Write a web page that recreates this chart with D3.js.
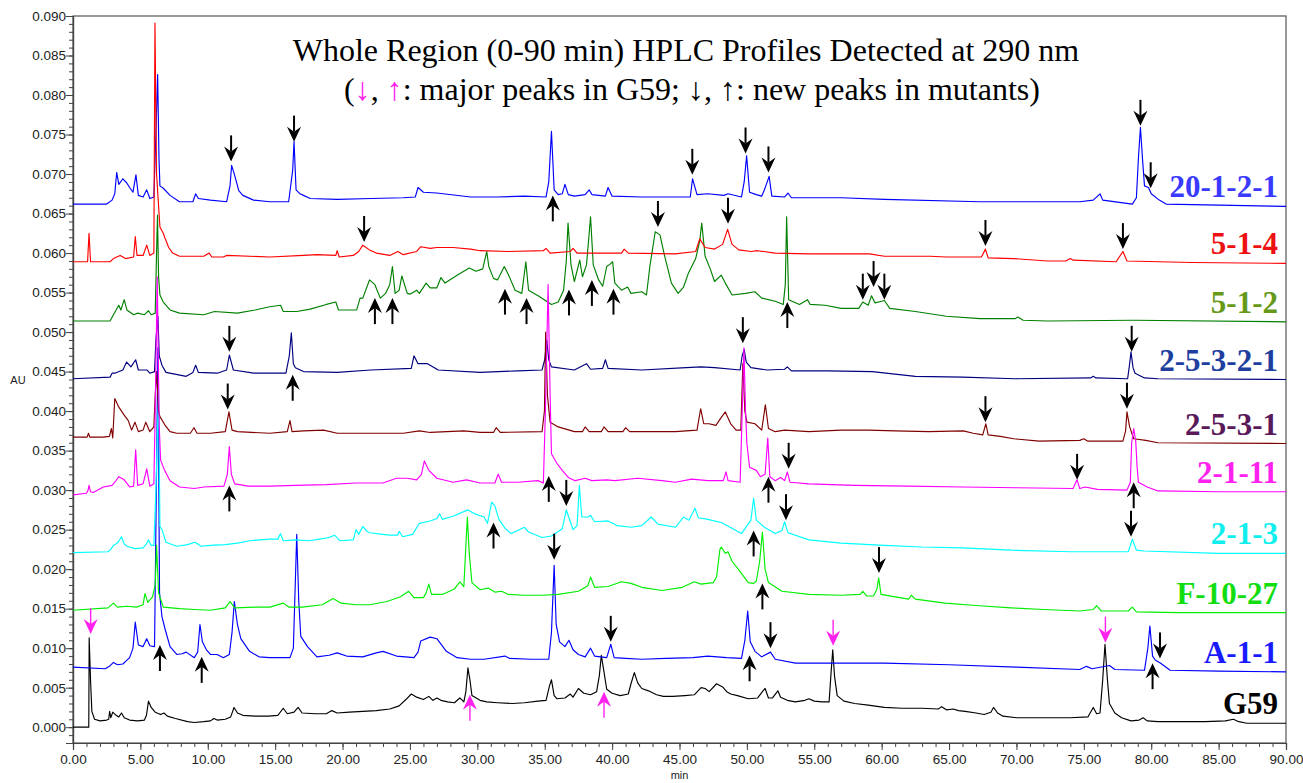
<!DOCTYPE html>
<html><head><meta charset="utf-8">
<script src="https://cdn.jsdelivr.net/npm/d3@7/dist/d3.min.js"></script>
<style>body{margin:0;background:#fff;}svg{display:block;}</style>
</head><body>
<svg id="chart" width="1303" height="783"></svg>
<script>
// ---------- DATA (time in min, absorbance in AU) ----------
const xMajorTicks = [0,5,10,15,20,25,30,35,40,45,50,55,60,65,70,75,80,85,90];
const yMajorTicks = [0,0.005,0.010,0.015,0.020,0.025,0.030,0.035,0.040,0.045,0.050,0.055,0.060,0.065,0.070,0.075,0.080,0.085,0.090];

const seriesNames = ["G59","A-1-1","F-10-27","2-1-3","2-5-3-2-1","2-5-3-1","5-1-2","20-1-2-1","2-1-11","5-1-4"];
const lineColors  = ["#000000","#0000ff","#00ee00","#00ffff","#000080","#800000","#008000","#0000ff","#ff00ff","#ff0000"];
const labelColors = ["#000000","#1a1aff","#11dd11","#11eeee","#1f3f9f","#5a1a5a","#669918","#3a3aff","#ff22ee","#ee1111"];

const g59 = [[0,0],[1.17,0],[1.2,0.0113],[1.3,0.0060],[1.4,0.0020],[1.6,0.0010],[2.0,0.0008],[2.5,0.0009],[2.65,0.0010],[2.72,0.0020],[2.8,0.0012],[2.95,0.0019],[3.2,0.0015],[3.4,0.0013],[3.6,0.0018],[3.8,0.0012],[4.2,0.0009],[4.8,0.0008],[5.3,0.0009],[5.45,0.0015],[5.6,0.0033],[5.8,0.0025],[6.1,0.0019],[6.5,0.0016],[6.75,0.0018],[7.0,0.0014],[7.6,0.0011],[8.5,0.0007],[9.0,0.0006],[9.7,0.0007],[10.2,0.0008],[10.45,0.0011],[10.7,0.0009],[11.3,0.0010],[11.7,0.0013],[11.95,0.0025],[12.2,0.0018],[12.6,0.0015],[13.5,0.0014],[14.5,0.0014],[15.2,0.0015],[15.6,0.0024],[15.9,0.0017],[16.4,0.0019],[16.7,0.0025],[17.0,0.0018],[18.0,0.0017],[18.8,0.0017],[19.2,0.0021],[19.6,0.0018],[20.5,0.0019],[21.5,0.0020],[22.5,0.0021],[23.5,0.0023],[24.2,0.0027],[24.7,0.0035],[25.1,0.0042],[25.5,0.0038],[26.0,0.0035],[26.4,0.0039],[26.7,0.0034],[27.0,0.0037],[27.3,0.0034],[27.8,0.0032],[28.3,0.0031],[28.7,0.0037],[29.0,0.0032],[29.15,0.0045],[29.3,0.0075],[29.45,0.0060],[29.6,0.0040],[30.2,0.0034],[30.7,0.0032],[31.5,0.0031],[32.6,0.0030],[33.5,0.0031],[34.5,0.0033],[35.1,0.0034],[35.35,0.0052],[35.5,0.0060],[35.7,0.0040],[35.9,0.0036],[36.5,0.0037],[36.9,0.0042],[37.1,0.0038],[37.5,0.0049],[37.9,0.0043],[38.4,0.0041],[38.85,0.0045],[39.05,0.0065],[39.2,0.0091],[39.35,0.0075],[39.6,0.0048],[40.0,0.0043],[40.6,0.0040],[41.2,0.0042],[41.4,0.0055],[41.65,0.0069],[41.9,0.0056],[42.2,0.0049],[42.7,0.0046],[43.3,0.0041],[43.8,0.0039],[44.5,0.0039],[45.4,0.0040],[46.1,0.0041],[46.6,0.0050],[46.9,0.0049],[47.2,0.0045],[47.75,0.0055],[48.2,0.0051],[48.5,0.0045],[48.8,0.0042],[49.3,0.0040],[50.1,0.0036],[50.8,0.0037],[51.15,0.0045],[51.35,0.0049],[51.6,0.0037],[51.9,0.0037],[52.3,0.0046],[52.5,0.0038],[53.0,0.0034],[53.6,0.0032],[54.3,0.0034],[54.6,0.0036],[55.0,0.0033],[55.6,0.0032],[56.1,0.0032],[56.25,0.0070],[56.37,0.0098],[56.5,0.0065],[56.7,0.0040],[57.2,0.0033],[58.0,0.0030],[59.0,0.0028],[60.2,0.0025],[61.5,0.0024],[63.0,0.0024],[64.2,0.0023],[64.45,0.0026],[64.8,0.0022],[65.3,0.0023],[65.7,0.0021],[66.2,0.0020],[67.0,0.0018],[67.6,0.0016],[68.1,0.0019],[68.3,0.0025],[68.6,0.0018],[69.0,0.0014],[70.0,0.0012],[72.0,0.0012],[74.0,0.0012],[75.3,0.0013],[75.7,0.0025],[75.95,0.0017],[76.2,0.0018],[76.4,0.0060],[76.57,0.0105],[76.75,0.0060],[76.9,0.0030],[77.3,0.0018],[77.8,0.0012],[78.5,0.0008],[79.1,0.0009],[79.4,0.0012],[79.7,0.0008],[80.5,0.0007],[82,0.0007],[84,0.0007],[85.5,0.0008],[86.1,0.0010],[86.5,0.0007],[87.1,0.0005],[90,0.0005]];

const a11 = [[0,0.0076],[2.4,0.0074],[2.7,0.0077],[3.0,0.0082],[3.3,0.0079],[3.7,0.0080],[4.2,0.0088],[4.45,0.0100],[4.62,0.0133],[4.85,0.0104],[5.2,0.0102],[5.47,0.0112],[5.7,0.0103],[6.05,0.0102],[6.15,0.0250],[6.3,0.0480],[6.42,0.0170],[6.6,0.0140],[6.85,0.0123],[7.2,0.0102],[7.7,0.0092],[8.1,0.0093],[8.4,0.0095],[9.0,0.0088],[9.25,0.0095],[9.42,0.0130],[9.6,0.0108],[9.9,0.0098],[10.2,0.0092],[10.7,0.0092],[11.15,0.0088],[11.6,0.0092],[11.8,0.0120],[11.97,0.0159],[12.2,0.0130],[12.45,0.0112],[13.1,0.0096],[13.8,0.0089],[14.6,0.0088],[15.5,0.0088],[16.1,0.0088],[16.35,0.0100],[16.6,0.0244],[16.75,0.0160],[16.9,0.0115],[17.4,0.0102],[18.1,0.0089],[19.0,0.0091],[19.6,0.0094],[20.3,0.0090],[21.5,0.0089],[22.5,0.0094],[23.0,0.0096],[24.0,0.0090],[25.3,0.0088],[25.6,0.0095],[25.8,0.0109],[26.5,0.0114],[27.0,0.0112],[27.7,0.0096],[28.5,0.0088],[29.5,0.0086],[30.5,0.0086],[32.05,0.0090],[32.4,0.0087],[34.0,0.0086],[35.3,0.0086],[35.5,0.0120],[35.7,0.0205],[35.85,0.0130],[36.1,0.0108],[36.5,0.0102],[36.8,0.0110],[37.1,0.0098],[37.5,0.0092],[38.0,0.0089],[38.4,0.0100],[38.7,0.0090],[39.6,0.0088],[39.9,0.0105],[40.15,0.0088],[41,0.0087],[42.2,0.0086],[44,0.0087],[46.0,0.0088],[47.1,0.0090],[48.5,0.0088],[49.6,0.0087],[49.85,0.0110],[50.06,0.0147],[50.25,0.0108],[50.6,0.0096],[51.1,0.0089],[51.75,0.0095],[52.1,0.0086],[53.6,0.0081],[56,0.0081],[60.2,0.0081],[65,0.0079],[70,0.0076],[74.7,0.0073],[75.2,0.0077],[75.6,0.0074],[76.9,0.0078],[77.3,0.0073],[79.5,0.0072],[79.75,0.0100],[79.9,0.0128],[80.1,0.0090],[80.3,0.0085],[80.7,0.0081],[81.4,0.0072],[85,0.0071],[90,0.0070]];

const f1027 = [[0,0.0148],[2.6,0.0151],[3.0,0.0157],[3.3,0.0152],[4.0,0.0153],[4.7,0.0152],[5.2,0.0155],[5.34,0.0169],[5.55,0.0158],[5.9,0.0165],[6.1,0.0180],[6.2,0.0230],[6.35,0.0170],[6.7,0.0152],[7.9,0.0150],[9.0,0.0149],[10.2,0.0148],[11.3,0.0151],[11.65,0.0159],[12.0,0.0151],[13.5,0.0152],[14.6,0.0152],[15.6,0.0157],[16.0,0.0152],[17.0,0.0152],[18.5,0.0155],[19.3,0.0163],[19.9,0.0157],[21.0,0.0155],[22.0,0.0155],[23.3,0.0159],[24.3,0.0165],[24.9,0.0172],[25.3,0.0164],[26.0,0.0164],[26.2,0.0170],[26.4,0.0181],[26.6,0.0168],[27.4,0.0168],[28.3,0.0175],[28.7,0.0184],[29.0,0.0178],[29.15,0.0230],[29.26,0.0266],[29.4,0.0220],[29.6,0.0183],[30.2,0.0174],[30.8,0.0176],[31.3,0.0171],[31.8,0.0172],[32.3,0.0168],[33.5,0.0167],[34.8,0.0167],[36.0,0.0168],[37.5,0.0172],[38.2,0.0179],[38.4,0.0190],[38.7,0.0177],[39.7,0.0178],[40.7,0.0184],[41.4,0.0182],[42.2,0.0177],[43.7,0.0173],[45.2,0.0177],[46.1,0.0184],[46.6,0.0181],[47.5,0.0183],[47.75,0.0190],[48.0,0.0225],[48.1,0.0228],[48.4,0.0220],[48.6,0.0222],[48.9,0.0210],[49.4,0.0199],[50.1,0.0183],[50.5,0.0182],[50.7,0.0185],[50.95,0.0210],[51.15,0.0247],[51.35,0.0200],[51.6,0.0183],[52.6,0.0172],[54.6,0.0168],[57.0,0.0167],[58.4,0.0168],[58.6,0.0172],[58.9,0.0166],[59.4,0.0166],[59.65,0.0175],[59.78,0.0189],[59.95,0.0168],[61,0.0165],[62.0,0.0162],[62.2,0.0167],[62.5,0.0162],[64.7,0.0157],[67,0.0154],[69.6,0.0151],[72,0.0149],[74.7,0.0147],[75.7,0.0149],[75.95,0.0154],[76.3,0.0147],[78.3,0.0147],[78.6,0.0152],[78.9,0.0146],[82,0.0145],[86,0.0145],[90,0.0145]];

const s213 = [[0,0.0221],[2.6,0.0222],[2.8,0.0225],[3.0,0.0230],[3.3,0.0233],[3.6,0.0241],[3.8,0.0232],[4.0,0.0229],[4.6,0.0226],[5.2,0.0227],[5.45,0.0232],[5.6,0.0237],[5.8,0.0230],[6.0,0.0230],[6.15,0.0300],[6.35,0.0427],[6.45,0.0254],[6.6,0.0250],[6.9,0.0234],[7.7,0.0229],[8.5,0.0231],[9.05,0.0234],[9.5,0.0229],[10.2,0.0230],[11.3,0.0231],[12.2,0.0233],[13.1,0.0236],[14.6,0.0238],[15.2,0.0238],[15.4,0.0245],[15.6,0.0236],[16.5,0.0237],[17.5,0.0236],[18.3,0.0238],[19.0,0.0240],[19.4,0.0243],[19.8,0.0236],[20.8,0.0237],[21.0,0.0250],[21.2,0.0244],[21.5,0.0254],[21.8,0.0248],[22.0,0.0246],[23.0,0.0244],[23.5,0.0243],[24.1,0.0243],[24.2,0.0248],[24.45,0.0241],[25.2,0.0244],[25.7,0.0258],[26.5,0.0261],[27.0,0.0264],[27.2,0.0270],[27.4,0.0263],[28.2,0.0267],[29.3,0.0275],[29.8,0.0270],[30.5,0.0266],[30.75,0.0258],[31.07,0.0285],[31.3,0.0280],[31.6,0.0263],[32.05,0.0252],[32.5,0.0245],[33.0,0.0249],[33.5,0.0253],[33.8,0.0247],[34.8,0.0240],[35.5,0.0242],[36.3,0.0251],[36.6,0.0275],[36.9,0.0260],[37.1,0.0250],[37.4,0.0255],[37.57,0.0306],[37.75,0.0266],[38.2,0.0266],[38.4,0.0268],[38.7,0.0260],[39.7,0.0261],[40.4,0.0255],[41.4,0.0253],[42.2,0.0255],[42.9,0.0266],[43.4,0.0257],[44.7,0.0253],[45.3,0.0266],[45.7,0.0262],[46.15,0.0277],[46.4,0.0265],[47.1,0.0263],[48.1,0.0259],[49.6,0.0245],[50.3,0.0262],[50.5,0.0290],[50.7,0.0262],[51.3,0.0253],[52.1,0.0245],[52.6,0.0249],[52.8,0.0260],[53.05,0.0246],[54.6,0.0237],[57,0.0233],[60.2,0.0230],[63,0.0228],[66,0.0227],[69.6,0.0224],[74,0.0222],[78.3,0.0222],[78.6,0.0238],[78.9,0.0224],[79.5,0.0223],[85,0.0220],[90,0.0220]];

const s25321 = [[0,0.0441],[2.75,0.0443],[2.9,0.0448],[3.1,0.0448],[3.7,0.0452],[3.98,0.0462],[4.3,0.0456],[4.65,0.0465],[4.85,0.0452],[5.5,0.0452],[5.7,0.0448],[6.05,0.0450],[6.15,0.0490],[6.3,0.0520],[6.4,0.0470],[6.6,0.0458],[6.9,0.0449],[8.4,0.0444],[8.9,0.0449],[9.1,0.0458],[9.3,0.0449],[10.7,0.0448],[11.4,0.0452],[11.6,0.0471],[11.9,0.0452],[13.4,0.0448],[15.8,0.0448],[16.05,0.0470],[16.2,0.0499],[16.35,0.0460],[16.5,0.0455],[17.1,0.0450],[19.6,0.0449],[22.1,0.0452],[25.1,0.0454],[25.3,0.0470],[25.6,0.0460],[26.3,0.0460],[27.1,0.0452],[30.2,0.0449],[33,0.0451],[34.8,0.0452],[35.0,0.0465],[35.15,0.0490],[35.3,0.0465],[35.5,0.0456],[37.2,0.0452],[38.1,0.0460],[38.4,0.0453],[39.3,0.0454],[39.5,0.0465],[39.7,0.0454],[42.2,0.0452],[45.5,0.0455],[46.6,0.0456],[47.6,0.0455],[49.5,0.0452],[49.65,0.0470],[49.8,0.0478],[49.95,0.0462],[50.3,0.0455],[51.5,0.0452],[52.8,0.0453],[53.0,0.0456],[53.3,0.0451],[56,0.0451],[59.3,0.0450],[62.5,0.0444],[66,0.0443],[69.9,0.0441],[75.5,0.0442],[75.7,0.0444],[75.9,0.0442],[78.25,0.0441],[78.4,0.0460],[78.5,0.0475],[78.65,0.0455],[78.8,0.0448],[79.5,0.0442],[80.5,0.0441],[90,0.0440]];

const s2531 = [[0,0.0367],[1.05,0.0367],[1.15,0.0372],[1.25,0.0367],[2.25,0.0367],[2.7,0.0368],[2.85,0.0378],[2.95,0.0366],[3.1,0.0416],[3.4,0.0405],[3.8,0.0395],[4.1,0.0388],[4.35,0.0376],[4.6,0.0386],[4.85,0.0374],[5.2,0.0376],[5.4,0.0386],[5.7,0.0374],[6.0,0.0380],[6.1,0.0420],[6.2,0.0450],[6.35,0.0400],[6.45,0.0393],[6.8,0.0383],[7.2,0.0374],[7.7,0.0372],[8.7,0.0372],[8.98,0.0379],[9.2,0.0372],[10.2,0.0372],[11.3,0.0374],[11.57,0.0399],[11.8,0.0376],[12.2,0.0374],[14.6,0.0372],[15.9,0.0374],[16.1,0.0388],[16.25,0.0374],[17.1,0.0375],[18.6,0.0376],[19.6,0.0372],[24.5,0.0372],[25.7,0.0375],[26.5,0.0373],[29.0,0.0375],[30.2,0.0373],[31.2,0.0373],[31.4,0.0379],[31.7,0.0373],[34.8,0.0374],[34.98,0.0400],[35.07,0.0500],[35.2,0.0420],[35.4,0.0386],[36.0,0.0380],[37.2,0.0374],[37.8,0.0374],[38.0,0.0380],[38.3,0.0374],[39.2,0.0374],[39.4,0.0380],[39.7,0.0374],[40.8,0.0374],[41.0,0.0379],[41.3,0.0374],[44.7,0.0374],[46.3,0.0376],[46.57,0.0403],[46.8,0.0384],[47.2,0.0384],[47.7,0.0382],[48.1,0.0392],[48.4,0.0399],[48.8,0.0384],[49.2,0.0376],[49.55,0.0376],[49.7,0.0460],[49.85,0.0400],[50.0,0.0386],[50.6,0.0384],[51.1,0.0376],[51.37,0.0408],[51.6,0.0378],[52.1,0.0374],[52.8,0.0376],[54.6,0.0374],[57.0,0.0376],[59.0,0.0376],[61,0.0375],[63.5,0.0374],[66.05,0.0375],[66.8,0.0372],[67.5,0.0370],[67.73,0.0384],[67.9,0.0370],[68.8,0.0368],[69.8,0.0365],[71.7,0.0362],[74.7,0.0363],[75,0.0365],[75.3,0.0362],[77.9,0.0362],[78.1,0.0375],[78.2,0.0399],[78.4,0.0380],[78.7,0.0365],[79.6,0.0363],[80.5,0.0360],[90,0.0359]];

const s512 = [[0,0.0514],[2.75,0.0514],[3.0,0.0522],[3.4,0.0534],[3.55,0.0528],[3.8,0.0541],[4.0,0.0528],[4.5,0.0522],[4.8,0.0524],[5.3,0.0522],[5.6,0.0527],[5.8,0.0522],[6.1,0.0524],[6.2,0.0600],[6.27,0.0648],[6.35,0.0570],[6.45,0.0547],[6.7,0.0538],[7.2,0.0528],[7.9,0.0524],[9.7,0.0522],[10.5,0.0526],[12.2,0.0524],[13.5,0.0528],[14.6,0.0532],[15.4,0.0534],[15.6,0.0526],[16.6,0.0526],[17.6,0.0529],[18.8,0.0535],[19.5,0.0538],[19.7,0.0528],[21.05,0.0528],[21.3,0.0543],[21.5,0.0543],[22.0,0.0566],[22.4,0.0560],[22.8,0.0543],[23.2,0.0549],[23.5,0.0560],[23.7,0.0583],[23.9,0.0549],[24.2,0.0553],[24.4,0.0571],[24.8,0.0549],[25.0,0.0548],[25.5,0.0553],[25.7,0.0549],[26.2,0.0562],[26.5,0.0556],[27.0,0.0556],[27.3,0.0569],[27.6,0.0562],[28.5,0.0572],[29.4,0.0581],[29.9,0.0577],[30.4,0.0580],[30.7,0.0602],[30.85,0.0583],[31.2,0.0568],[31.5,0.0566],[32.0,0.0583],[32.3,0.0573],[32.8,0.0553],[33.3,0.0549],[33.6,0.0589],[33.8,0.0553],[34.6,0.0545],[35.5,0.0535],[36.0,0.0538],[36.4,0.0553],[36.6,0.0590],[36.73,0.0638],[36.95,0.0585],[37.2,0.0564],[37.6,0.0591],[37.8,0.0570],[38.1,0.0585],[38.4,0.0646],[38.6,0.0585],[39.0,0.0566],[39.3,0.0558],[39.6,0.0583],[39.85,0.0586],[40.04,0.0589],[40.2,0.0562],[40.7,0.0553],[41.15,0.0557],[41.4,0.0549],[42.2,0.0551],[42.55,0.0547],[42.8,0.0583],[43.2,0.0627],[43.55,0.0623],[43.9,0.0596],[44.4,0.0562],[44.9,0.0549],[45.3,0.0557],[45.65,0.0574],[46.2,0.0593],[46.5,0.0615],[46.65,0.0638],[46.9,0.0596],[47.3,0.0579],[47.6,0.0564],[48.1,0.0572],[48.4,0.0562],[48.9,0.0547],[49.9,0.0549],[50.6,0.0551],[51.1,0.0543],[52.1,0.0539],[52.7,0.0535],[52.85,0.0560],[52.95,0.0646],[53.1,0.0541],[53.9,0.0535],[54.5,0.0541],[54.7,0.0535],[55.8,0.0534],[57.0,0.0530],[58.3,0.0530],[58.6,0.0538],[59.0,0.0534],[59.25,0.0546],[59.5,0.0537],[60.0,0.0539],[60.2,0.0540],[60.6,0.0530],[62.5,0.0526],[64.8,0.0520],[67.3,0.0517],[69.9,0.0517],[70.1,0.0519],[70.5,0.0515],[72.3,0.0514],[78.7,0.0515],[90,0.0513]];

const s514 = [[0,0.0589],[1.08,0.0589],[1.19,0.0625],[1.3,0.0589],[2.75,0.0589],[3.0,0.0593],[3.5,0.0597],[3.9,0.0593],[4.5,0.0595],[4.62,0.0621],[4.75,0.0597],[5.2,0.0597],[5.47,0.0610],[5.7,0.0597],[6.0,0.0600],[6.08,0.0891],[6.2,0.0700],[6.45,0.0633],[6.7,0.0625],[6.8,0.0620],[7.1,0.0607],[7.4,0.0600],[7.9,0.0596],[9.7,0.0596],[10.1,0.0600],[10.3,0.0595],[11.15,0.0595],[11.4,0.0597],[14.6,0.0595],[17.1,0.0597],[18.1,0.0598],[19.5,0.0597],[19.6,0.0603],[19.75,0.0595],[20.8,0.0597],[21.2,0.0602],[21.5,0.0610],[22.0,0.0604],[22.5,0.0600],[23.5,0.0597],[24.1,0.0602],[24.5,0.0598],[25.5,0.0602],[25.8,0.0608],[26.5,0.0606],[27.0,0.0607],[28.2,0.0607],[29.5,0.0605],[30.2,0.0603],[32.3,0.0602],[34.9,0.0603],[35.1,0.0606],[35.4,0.0600],[36.9,0.0602],[37.1,0.0606],[37.4,0.0600],[40.7,0.0600],[40.9,0.0605],[41.2,0.0600],[44.7,0.0599],[46.2,0.0602],[46.5,0.0618],[46.9,0.0607],[47.6,0.0605],[48.2,0.0611],[48.57,0.0630],[48.9,0.0611],[49.4,0.0604],[50.3,0.0602],[50.8,0.0603],[52.1,0.0600],[54.6,0.0599],[59.1,0.0599],[60.2,0.0596],[63.6,0.0596],[64.8,0.0595],[67.4,0.0595],[67.7,0.0605],[67.9,0.0594],[69.8,0.0593],[72.3,0.0590],[73.65,0.0590],[74.0,0.0593],[74.2,0.0591],[77.4,0.0589],[77.9,0.0602],[78.2,0.0590],[83,0.0588],[90,0.0587]];

const s20121 = [[0,0.0662],[2.5,0.0662],[2.9,0.0667],[3.1,0.0675],[3.24,0.0702],[3.4,0.0687],[3.7,0.0694],[3.98,0.0689],[4.2,0.0683],[4.45,0.0677],[4.67,0.0699],[4.85,0.0673],[5.2,0.0671],[5.47,0.0680],[5.7,0.0669],[6.0,0.0671],[6.15,0.0750],[6.28,0.0826],[6.38,0.0720],[6.45,0.0685],[6.7,0.0682],[7.2,0.0673],[7.9,0.0665],[8.9,0.0665],[9.1,0.0675],[9.3,0.0669],[10.2,0.0667],[11.4,0.0665],[11.65,0.0685],[11.77,0.0711],[12.0,0.0698],[12.3,0.0679],[12.6,0.0673],[13.4,0.0667],[14.6,0.0665],[16.0,0.0665],[16.3,0.0705],[16.4,0.0741],[16.55,0.0680],[16.85,0.0675],[17.1,0.0673],[17.6,0.0669],[19.6,0.0668],[22.1,0.0669],[24.5,0.0670],[25.4,0.0671],[25.6,0.0683],[26.0,0.0677],[27.0,0.0676],[29.5,0.0671],[31.5,0.0671],[33.5,0.0672],[35.1,0.0671],[35.3,0.0690],[35.5,0.0754],[35.7,0.0680],[36.0,0.0674],[36.3,0.0675],[36.5,0.0687],[36.75,0.0674],[37.2,0.0672],[38.0,0.0674],[38.3,0.0680],[38.5,0.0674],[39.5,0.0672],[39.7,0.0683],[40.0,0.0672],[42.2,0.0671],[44.7,0.0671],[45.8,0.0671],[45.97,0.0694],[46.3,0.0674],[47.1,0.0675],[48.3,0.0673],[48.6,0.0675],[49.6,0.0671],[49.8,0.0690],[49.98,0.0723],[50.2,0.0677],[50.7,0.0674],[51.1,0.0672],[51.3,0.0680],[51.65,0.0697],[51.85,0.0672],[52.8,0.0671],[53.05,0.0676],[53.3,0.0670],[57.0,0.0670],[60.2,0.0668],[67.3,0.0665],[74.7,0.0665],[75.7,0.0667],[76.2,0.0675],[76.4,0.0667],[78.6,0.0662],[78.9,0.0670],[79.05,0.0720],[79.2,0.0759],[79.35,0.0720],[79.5,0.0685],[79.8,0.0683],[80.0,0.0675],[80.6,0.0667],[81.1,0.0662],[90,0.0659]];

const s2111 = [[0,0.0294],[1.0,0.0296],[1.12,0.0300],[1.19,0.0306],[1.3,0.0298],[1.5,0.0297],[2.25,0.0304],[2.9,0.0306],[3.1,0.0310],[3.4,0.0317],[3.6,0.0315],[3.8,0.0313],[4.2,0.0304],[4.5,0.0305],[4.65,0.0351],[4.8,0.0306],[5.2,0.0308],[5.47,0.0327],[5.7,0.0305],[6.0,0.0308],[6.1,0.0400],[6.25,0.0570],[6.4,0.0380],[6.5,0.0338],[6.8,0.0325],[7.2,0.0312],[7.9,0.0304],[9.0,0.0302],[9.7,0.0304],[11.2,0.0305],[11.45,0.0320],[11.6,0.0355],[11.75,0.0320],[12.0,0.0308],[13,0.0305],[14.6,0.0305],[16.5,0.0306],[18.8,0.0307],[21.0,0.0309],[23.0,0.0309],[24.0,0.0315],[24.8,0.0315],[25.5,0.0313],[25.85,0.0320],[26.07,0.0337],[26.4,0.0325],[27.0,0.0315],[28.2,0.0310],[29.2,0.0313],[30.2,0.0309],[31.3,0.0309],[31.55,0.0320],[31.8,0.0310],[33,0.0310],[34.5,0.0312],[34.9,0.0309],[35.05,0.0400],[35.25,0.0560],[35.4,0.0420],[35.5,0.0346],[35.9,0.0334],[36.3,0.0325],[36.75,0.0316],[37.25,0.0312],[38.0,0.0315],[38.5,0.0312],[39.6,0.0313],[40.2,0.0312],[41.9,0.0315],[43.7,0.0312],[44.7,0.0310],[45.9,0.0314],[47.1,0.0312],[48.25,0.0312],[48.45,0.0323],[48.6,0.0312],[49.5,0.0310],[49.62,0.0380],[49.78,0.0480],[49.9,0.0400],[50.0,0.0359],[50.2,0.0329],[50.7,0.0325],[51.0,0.0317],[51.35,0.0320],[51.55,0.0366],[51.7,0.0317],[52.1,0.0312],[52.5,0.0316],[52.8,0.0312],[53.0,0.0323],[53.2,0.0310],[54.6,0.0308],[58,0.0306],[62,0.0305],[66,0.0304],[70,0.0303],[74.2,0.0302],[74.5,0.0313],[74.7,0.0302],[75.1,0.0304],[76,0.0301],[78.2,0.0300],[78.45,0.0310],[78.55,0.0360],[78.7,0.0378],[78.85,0.0362],[78.95,0.0330],[79.05,0.0310],[79.7,0.0304],[80.5,0.0299],[85,0.0298],[90,0.0298]];

const seriesData = [g59, a11, f1027, s213, s25321, s2531, s512, s20121, s2111, s514];

// arrows: [time, tip absorbance]
const blackDownArrows = [[11.73,0.0716],[16.4,0.0741],[45.95,0.0699],[49.9,0.0726],[51.6,0.0702],[79.2,0.0761],[79.96,0.0682],[21.6,0.0614],[43.4,0.0633],[48.6,0.0637],[67.7,0.0609],[77.9,0.0605],[58.6,0.0541],[59.4,0.0557],[60.2,0.0541],[11.6,0.0475],[49.7,0.0486],[78.55,0.0475],[11.48,0.0402],[67.7,0.0386],[78.2,0.0403],[53.1,0.0327],[74.5,0.0313],[36.6,0.0280],[52.9,0.0262],[78.5,0.0241],[35.7,0.0212],[59.8,0.0195],[39.9,0.0108],[51.75,0.0100],[80.65,0.0087]];
const blackUpArrows = [[35.6,0.0673],[22.4,0.0543],[23.7,0.0543],[32.05,0.0555],[33.65,0.0543],[36.8,0.0554],[38.5,0.0566],[40.1,0.0555],[53.0,0.0538],[16.3,0.0446],[11.6,0.0306],[35.3,0.0318],[51.6,0.0317],[78.7,0.0310],[31.2,0.0259],[50.5,0.0249],[51.15,0.0182],[6.45,0.0104],[9.55,0.0089],[50.2,0.0091],[80.1,0.0081]];
const pinkDownArrows = [[1.31,0.0118],[56.4,0.0103],[76.6,0.0107]];
const pinkUpArrows = [[29.45,0.0041],[39.4,0.0045]];

const titleLine1 = "Whole Region (0-90 min) HPLC Profiles Detected at 290 nm";

// ---------- CHART ----------
const svg = d3.select("#chart");
const x = d3.scaleLinear().domain([0, 90]).range([73, 1286]);
const y = d3.scaleLinear().domain([-0.002, 0.090]).range([743, 16]);

// frame
svg.append("rect").attr("x", x(0)).attr("y", y(0.090)).attr("width", x(90)-x(0)).attr("height", y(-0.002)-y(0.090))
  .attr("fill","none").attr("stroke","#555").attr("stroke-width",1.2);

// y axis
const yMinor = d3.range(-2, 91).map(v => v/1000);
const yAxisMinor = d3.axisLeft(y).tickValues(yMinor).tickSize(4).tickFormat("");
const yAxisMajor = d3.axisLeft(y).tickValues(yMajorTicks).tickSize(7).tickFormat(d3.format(".3f"));
const gy1 = svg.append("g").attr("transform",`translate(${x(0)},0)`).call(yAxisMinor);
const gy2 = svg.append("g").attr("transform",`translate(${x(0)},0)`).call(yAxisMajor);
// x axis
const xMinor = d3.range(0, 91, 1);
const xAxisMinor = d3.axisBottom(x).tickValues(xMinor).tickSize(4).tickFormat("");
const xAxisMajor = d3.axisBottom(x).tickValues(xMajorTicks).tickSize(7).tickFormat(d3.format(".2f"));
const gx1 = svg.append("g").attr("transform",`translate(0,${y(-0.002)})`).call(xAxisMinor);
const gx2 = svg.append("g").attr("transform",`translate(0,${y(-0.002)})`).call(xAxisMajor);
[gy1,gy2,gx1,gx2].forEach(g=>{
  g.selectAll(".domain").attr("stroke","#444").attr("stroke-width",1.2);
  g.selectAll(".tick line").attr("stroke","#444").attr("stroke-width",1);
  g.selectAll("text").attr("font-family","'Liberation Sans', Arial, sans-serif").attr("font-size",13.5).attr("fill","#222");
});
gy2.selectAll("text").attr("x",-7);
gx2.selectAll("text").attr("y",11);

svg.append("text").attr("x",18).attr("y",384).attr("text-anchor","middle")
  .attr("font-family","'Liberation Sans', Arial, sans-serif").attr("font-size",11).attr("fill","#222").text("AU");
svg.append("text").attr("x",(x(0)+x(90))/2).attr("y",779).attr("text-anchor","middle")
  .attr("font-family","'Liberation Sans', Arial, sans-serif").attr("font-size",11).attr("fill","#222").text("min");

// traces
const line = d3.line().x(d => x(d[0])).y(d => y(d[1]));
seriesData.forEach((data, i) => {
  svg.append("path").datum(data).attr("d", line).attr("fill","none")
    .attr("stroke", lineColors[i]).attr("stroke-width", 1.15).attr("stroke-linejoin","round");
});

// labels (right aligned, just above each trace's end)
seriesData.forEach((data, i) => {
  const last = data[data.length-1];
  svg.append("text").attr("x", 1278).attr("y", y(last[1]) - 9).attr("text-anchor","end")
    .attr("font-family","'Liberation Serif','Times New Roman',serif").attr("font-weight","bold")
    .attr("font-size",31).attr("fill", labelColors[i]).text(seriesNames[i]);
});

// arrows
function drawArrows(list, dir, color, shaftW) {
  const L = 26, hl = 15, hw = 7, notch = 10;
  list.forEach(d => {
    const px = x(d[0]), py = y(d[1]);
    const s = dir === "down" ? -1 : 1;   // direction from tip towards tail
    const g = svg.append("g").attr("transform", `translate(${px},${py})`);
    g.append("line").attr("x1",0).attr("y1", s*notch).attr("x2",0).attr("y2", s*L)
      .attr("stroke", color).attr("stroke-width", shaftW);
    g.append("path").attr("d", `M0,0 L${-hw},${s*hl} L0,${s*notch} L${hw},${s*hl} Z`).attr("fill", color);
  });
}
drawArrows(blackDownArrows, "down", "#000", 2);
drawArrows(blackUpArrows, "up", "#000", 2);
drawArrows(pinkDownArrows, "down", "#ff22ee", 1.4);
drawArrows(pinkUpArrows, "up", "#ff22ee", 1.4);

// title
const tf = "'Liberation Serif','Times New Roman',serif";
svg.append("text").attr("x", 686).attr("y", 61).attr("text-anchor","middle")
  .attr("font-family", tf).attr("font-size", 32).attr("fill","#000").text(titleLine1);
const t2 = svg.append("text").attr("x", 692).attr("y", 100).attr("text-anchor","middle")
  .attr("font-family", tf).attr("font-size", 32).attr("fill","#000");
t2.append("tspan").text("(");
t2.append("tspan").attr("fill","#ff22ee").text("\u2193");
t2.append("tspan").text(", ");
t2.append("tspan").attr("fill","#ff22ee").text("\u2191");
t2.append("tspan").text(": major peaks in G59; \u2193, \u2191: new peaks in mutants)");
</script>
</body></html>
